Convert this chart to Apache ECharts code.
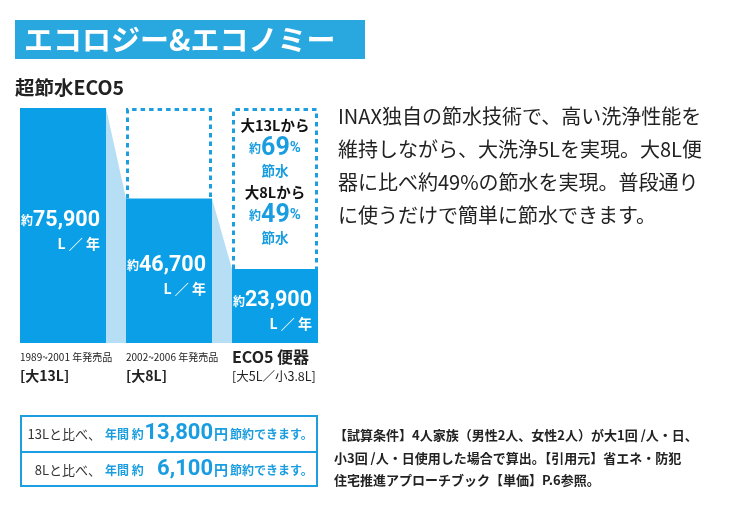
<!DOCTYPE html>
<html><head><meta charset="utf-8">
<script src="https://cdn.jsdelivr.net/npm/echarts@6/dist/echarts.min.js"></script>
<style>html,body{margin:0;padding:0;background:#fff}#c{width:730px;height:511px}</style>
</head><body><div id="c"></div>
<script>
// ---- data ----
const categories = ['1989~2001 年発売品', '2002~2006 年発売品', 'ECO5 便器'];
const flushVolumes = ['[大13L]', '[大8L]', '[大5L／小3.8L]'];
const annualWater = [75900, 46700, 23900];
const savingFrom = ['大13Lから', '大8Lから'];
const savingPct = [69, 49];
const compareWith = ['13L', '8L'];
const yenSaved = [13800, 6100];
const titleText = 'エコロジー&エコノミー';
const subtitleText = '超節水ECO5';
const bodyLines = ['INAX独自の節水技術で、高い洗浄性能を', '維持しながら、大洗浄5Lを実現。大8L便', '器に比べ約49%の節水を実現。普段通り', 'に使うだけで簡単に節水できます。'];
const noteLines = ['【試算条件】4人家族（男性2人、女性2人）が大1回 /人・日、', '小3回 /人・日使用した場合で算出。【引用元】省エネ・防犯', '住宅推進アプローチブック【単価】P.6参照。'];

// ---- style ----
const JP = "'Noto Sans CJK JP','Noto Sans',sans-serif";
const NUM = "Roboto,'Liberation Sans',sans-serif";
const BAR = '#0a9fe6', BANNER = '#29a8df', LIGHT = '#b6dff5', OUTLINE = '#1c9ee0', BLUE = '#1a9de0', DARK = '#222';
const BW = 86;
const fmt = v => v.toLocaleString('en-US');

const chart = echarts.init(document.getElementById('c'), null, {renderer: 'canvas'});

const connectorData = annualWater.slice(0, -1).map((v, i) => [i, v, i + 1, annualWater[i + 1]]);
const outlineData = annualWater.slice(1).map((v, i) => [i + 1, annualWater[0], v]);
const boxText = savingFrom.map((f, k) => `{k|${f}}\n{s|約}{b|${savingPct[k]}}{p|%}\n{w|節水}`).join('\n');

const graphic = [
  {type: 'rect', shape: {x: 15, y: 20, width: 350, height: 39}, style: {fill: BANNER}, silent: true},
  {type: 'text', x: 24, y: 40, style: {text: titleText, fill: '#fff', fontSize: 29, fontWeight: 'bold', fontFamily: JP, verticalAlign: 'middle'}},
  {type: 'text', x: 15, y: 88, style: {text: subtitleText, fill: DARK, fontSize: 19.5, fontWeight: 'bold', fontFamily: JP, verticalAlign: 'middle'}},
  {type: 'text', x: 338, y: 100, style: {text: bodyLines.join('\n'), fill: DARK, fontSize: 20, lineHeight: 33, fontFamily: JP, verticalAlign: 'top'}},
  {type: 'text', x: 334, y: 424, style: {text: noteLines.join('\n'), fill: DARK, fontSize: 13, fontWeight: 'bold', lineHeight: 22.5, fontFamily: JP, verticalAlign: 'top'}},
  {type: 'rect', shape: {x: 21, y: 416, width: 296, height: 70}, style: {fill: 'none', stroke: OUTLINE, lineWidth: 2}},
  {type: 'line', shape: {x1: 21, y1: 452, x2: 317, y2: 452}, style: {stroke: OUTLINE, lineWidth: 2}}
];
compareWith.forEach((c, i) => {
  const y = 434 + i * 36;
  graphic.push(
    {type: 'text', x: 101, y: y, style: {text: `${c}と比べ、`, fill: '#333', fontSize: 13, fontFamily: JP, align: 'right', verticalAlign: 'middle'}},
    {type: 'text', x: 105, y: y, style: {text: '年間 約', fill: BLUE, fontSize: 12, fontWeight: 'bold', fontFamily: JP, verticalAlign: 'middle'}},
    {type: 'text', x: 213, y: y - 1, style: {text: fmt(yenSaved[i]), fill: BLUE, fontSize: 22, fontWeight: 'bold', fontFamily: NUM, align: 'right', verticalAlign: 'middle'}},
    {type: 'text', x: 214, y: y, style: {text: '{y|円}{t|節約できます。}', fontFamily: JP, verticalAlign: 'middle',
      rich: {y: {fill: BLUE, fontSize: 14, fontWeight: 'bold', fontFamily: JP, padding: [0, 2, 0, 0]}, t: {fill: BLUE, fontSize: 12, fontWeight: 'bold', fontFamily: JP}}}}
  );
});

const option = {
  backgroundColor: '#fff',
  animation: false,
  grid: {left: 10, width: 318, top: 108, bottom: 168},
  xAxis: {
    type: 'category', data: categories,
    axisLine: {show: false}, axisTick: {show: false}, splitLine: {show: false},
    axisLabel: {
      margin: 5, interval: 0,
      formatter: (v, i) => i === 2 ? `{e|${v}}\n{f|${flushVolumes[i]}}` : `{a|${v}}\n{b|${flushVolumes[i]}}`,
      rich: {
        a: {width: BW, align: 'left', fontSize: 10, color: DARK, fontFamily: JP, lineHeight: 18},
        b: {width: BW, align: 'left', fontSize: 14, fontWeight: 'bold', color: DARK, fontFamily: JP, lineHeight: 20},
        e: {width: BW, align: 'left', fontSize: 16, fontWeight: 'bold', color: DARK, fontFamily: JP, lineHeight: 18},
        f: {width: BW, align: 'left', fontSize: 12.5, color: DARK, fontFamily: JP, lineHeight: 20}
      }
    }
  },
  yAxis: {type: 'value', min: 0, max: annualWater[0], show: false},
  graphic: graphic,
  series: [
    {
      type: 'custom', z: 1, silent: true, data: connectorData,
      encode: {x: [0, 2], y: [1, 3]},
      renderItem: (params, api) => {
        const p0 = api.coord([api.value(0), api.value(1)]);
        const p1 = api.coord([api.value(2), api.value(3)]);
        const base = api.coord([api.value(0), 0])[1];
        const h = BW / 2;
        return {type: 'polygon', shape: {points: [[p0[0] + h, p0[1]], [p1[0] - h, p1[1]], [p1[0] - h, base], [p0[0] + h, base]]}, style: {fill: LIGHT}};
      }
    },
    {
      type: 'custom', z: 2, silent: true, data: outlineData,
      encode: {x: 0, y: [1, 2]},
      renderItem: (params, api) => {
        const top = api.coord([api.value(0), api.value(1)]);
        const bot = api.coord([api.value(0), api.value(2)]);
        const l = top[0] - BW / 2 + 1.5, r = top[0] + BW / 2 - 1.5, t = top[1] + 1.5;
        const children = [{type: 'polyline', shape: {points: [[l, bot[1]], [l, t], [r, t], [r, bot[1]]]},
          style: {fill: null, stroke: OUTLINE, lineWidth: 3, lineDash: [4.5, 4]}}];
        if (api.value(0) === categories.length - 1) {
          children.push({type: 'text', x: top[0], y: t + 5, style: {text: boxText, align: 'center', verticalAlign: 'top',
            rich: {
              k: {fill: '#111', fontSize: 14.5, fontWeight: 'bold', fontFamily: JP, lineHeight: 22},
              s: {fill: BLUE, fontSize: 12, fontWeight: 'bold', fontFamily: JP, lineHeight: 24},
              b: {fill: BLUE, fontSize: 25, fontWeight: 'bold', fontFamily: NUM, lineHeight: 24},
              p: {fill: BLUE, fontSize: 15, fontWeight: 'bold', fontFamily: NUM, lineHeight: 24},
              w: {fill: BLUE, fontSize: 13.5, fontWeight: 'bold', fontFamily: JP, lineHeight: 21}
            }}});
        }
        return {type: 'group', children: children};
      }
    },
    {
      type: 'bar', z: 3, data: annualWater, barWidth: BW,
      itemStyle: {color: BAR},
      label: {
        show: true, position: 'insideRight', distance: 6, offset: [0, 5],
        formatter: p => `{s|約}{n|${fmt(p.value)}}\n{u|L ／ 年}`,
        rich: {
          s: {color: '#fff', fontSize: 12, fontWeight: 'bold', fontFamily: JP},
          n: {color: '#fff', fontSize: 21.5, fontWeight: 'bold', fontFamily: NUM, lineHeight: 26},
          u: {color: '#fff', fontSize: 14, fontWeight: 'bold', fontFamily: JP, lineHeight: 20}
        }
      }
    }
  ]
};
chart.setOption(option);
</script>
</body></html>
